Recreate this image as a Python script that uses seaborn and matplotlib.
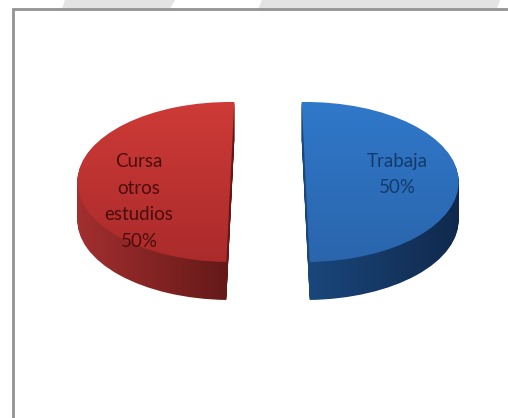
import numpy as np
import matplotlib
matplotlib.use("Agg")
import matplotlib.pyplot as plt
from matplotlib.colors import LinearSegmentedColormap
from matplotlib.patches import Rectangle, Polygon
import seaborn as sns

categories = ["Trabaja", "Cursa\notros\nestudios"]
values = [50, 50]
top_light = ["#3079cb", "#cf3b37"]
top_dark = ["#2a64ab", "#a92a2b"]
side_a = ["#1c4f88", "#a63030"]
side_b = ["#10274a", "#541312"]
text_cols = ["#123a6b", "#4a0d0d"]

W, H = 508, 418
sns.set_theme(style="white")
plt.rcParams["font.family"] = ["Lato", "DejaVu Sans"]
fig = plt.figure(figsize=(W / 100, H / 100), dpi=100, facecolor="white")
bg = fig.add_axes([0, 0, 1, 1], xlim=(0, W), ylim=(H, 0))
bg.axis("off")
bg.add_patch(Polygon([(65, 0), (175, 0), (170, 9), (62, 9)], fc="#e3e3e3", ec="none"))
bg.add_patch(Polygon([(262, 0), (500, 0), (497, 9), (258, 9)], fc="#e3e3e3", ec="none"))
bg.add_patch(Rectangle((12.5, 8.5), W + 20, H + 20, fc="white", ec="#939393", lw=2.0))

# pie axes fill the figure; data units are squashed so the disc is 153 x 80 px
cx, cy = 268.0, 182.5
rx, ry = 153.0, 80.0
ex_px = 37.7
ax = fig.add_axes([0, 0, 1, 1])
start_angles = [91.5, 268.5]
depth = 38 / ry
grad = np.linspace(0, 1, 256)


def draw(center_y, zorder, colors_fn, vertical):
    for i in range(2):
        wedges, _ = ax.pie([values[i], values[1 - i]], explode=[ex_px / rx, 0],
                           startangle=start_angles[i], counterclock=False,
                           center=(0, center_y), radius=1, colors=["none", "none"],
                           wedgeprops=dict(linewidth=0))
        cmap = LinearSegmentedColormap.from_list("c", colors_fn(i))
        g = grad[:, None] if vertical else grad[None, :]
        im = ax.imshow(g, cmap=cmap, aspect="auto", zorder=zorder,
                       extent=(-1.3, 1.3, center_y - 1.1, center_y + 1.1), origin="upper")
        im.set_clip_path(wedges[0])


steps = np.linspace(depth, 0, 39)[:-1]
for d in steps:
    draw(-d, 2,
         lambda i: [side_b[0], side_a[0], side_b[0]] if i == 0 else [side_a[1], side_b[1], side_b[1]],
         False)
draw(0, 3, lambda i: [top_light[i], top_dark[i]], True)
ax.set_xlim(-cx / rx, (W - cx) / rx)
ax.set_ylim((cy - H) / ry, cy / ry)
ax.set_aspect("auto")
ax.axis("off")
ax.patch.set_visible(False)

bg.set_zorder(0)
ax.set_zorder(1)
txt = fig.add_axes([0, 0, 1, 1], xlim=(0, W), ylim=(H, 0))
txt.axis("off")
txt.set_zorder(2)
txt.text(397, 174.5, f"{categories[0]}\n{values[0]}%", ha="center", va="center",
         fontsize=13.5, color=text_cols[0], linespacing=1.7)
txt.text(139, 201.5, f"{categories[1]}\n{values[1]}%", ha="center", va="center",
         fontsize=13.5, color=text_cols[1], linespacing=1.7)
fig.savefig("out.png", dpi=100)
